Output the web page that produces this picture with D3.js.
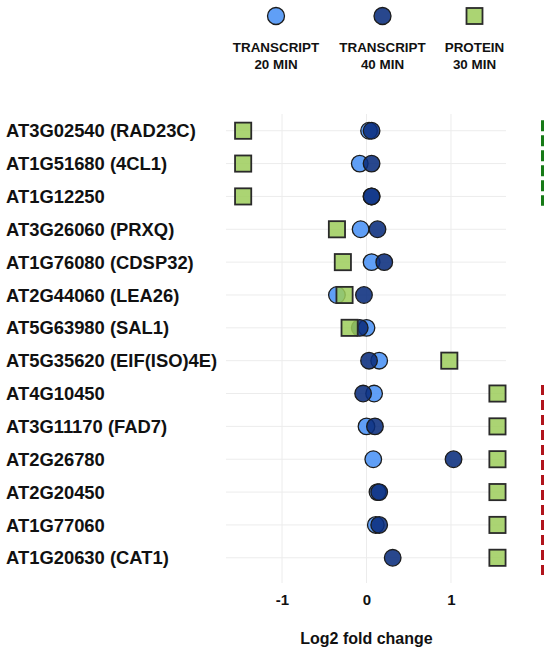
<!DOCTYPE html>
<html>
<head>
<meta charset="utf-8">
<script src="https://cdn.jsdelivr.net/npm/d3@7"></script>
<style>
  html, body { margin: 0; padding: 0; background: #fff; }
  svg { display: block; font-family: "Liberation Sans", Arial, sans-serif; font-weight: bold; }
</style>
</head>
<body>
<svg id="chart" width="545" height="648"></svg>
<script>
// Genes (top to bottom)
const genes = [
  "AT3G02540 (RAD23C)",
  "AT1G51680 (4CL1)",
  "AT1G12250",
  "AT3G26060 (PRXQ)",
  "AT1G76080 (CDSP32)",
  "AT2G44060 (LEA26)",
  "AT5G63980 (SAL1)",
  "AT5G35620 (EIF(ISO)4E)",
  "AT4G10450",
  "AT3G11170 (FAD7)",
  "AT2G26780",
  "AT2G20450",
  "AT1G77060",
  "AT1G20630 (CAT1)"
];

// Log2 fold changes
const transcript20 = [0.03, -0.08, 0.06, -0.07, 0.06, -0.35, 0.0, 0.15, 0.09, 0.0, 0.08, 0.13, 0.11, null];
const transcript40 = [0.06, 0.06, 0.06, 0.13, 0.21, -0.03, -0.08, 0.03, -0.04, 0.1, 1.03, 0.15, 0.15, 0.31];
const protein30    = [-1.46, -1.46, -1.46, -0.35, -0.28, -0.26, -0.2, 0.98, 1.55, 1.55, 1.55, 1.55, 1.55, 1.55];

// Axis ticks
const tickValues = [-1, 0, 1];
const tickLabels = ["-1", "0", "1"];

// Legend entries
const legendLabels = [["TRANSCRIPT", "20 MIN"], ["TRANSCRIPT", "40 MIN"], ["PROTEIN", "30 MIN"]];

// Bracketed gene groups (first and last row index)
const groupStart = [0, 8];
const groupEnd = [2, 13];

const svg = d3.select("#chart");

const x = d3.scaleLinear().domain([-1.663, 1.651]).range([226, 506]);
const y = d3.scaleBand().domain(genes).range([114.3, 574.2]).padding(0);
const yc = g => y(g) + y.bandwidth() / 2;

const colLight = "#4f95f5", colDark = "#0a2d7d", colGreen = "#9ccc5a", colStroke = "#1c1c1c";
const R = 8.3, S = 16.2;

// Grid
const grid = svg.append("g");
grid.selectAll("line.h").data(genes).join("line")
  .attr("x1", 226).attr("x2", 506)
  .attr("y1", d => yc(d)).attr("y2", d => yc(d))
  .attr("stroke", "#ececec").attr("stroke-width", 1);
grid.selectAll("line.v").data(tickValues).join("line")
  .attr("x1", d => x(d)).attr("x2", d => x(d))
  .attr("y1", 114).attr("y2", 583)
  .attr("stroke", "#ececec").attr("stroke-width", 1);

// X axis labels
const axis = d3.axisBottom(x).tickValues(tickValues).tickSize(0)
  .tickFormat((d, i) => tickLabels[i]);
const gx = svg.append("g").attr("transform", "translate(0,591)").call(axis);
gx.select(".domain").remove();
gx.selectAll("text").attr("font-size", 15).attr("font-weight", "bold")
  .attr("font-family", "Liberation Sans, Arial, sans-serif").attr("fill", "#111").attr("dy", "0.72em");

svg.append("text").attr("x", 366.5).attr("y", 644).attr("text-anchor", "middle")
  .attr("font-size", 16).attr("fill", "#111").text("Log2 fold change");

// Gene labels
svg.append("g").selectAll("text").data(genes).join("text")
  .attr("x", 6).attr("y", d => yc(d)).attr("dy", "0.36em")
  .attr("font-size", 18.4).attr("fill", "#111").text(d => d);

// Markers
const pts = svg.append("g");
pts.selectAll("circle.t20").data(genes.filter((g, i) => transcript20[i] != null)).join("circle")
  .attr("cx", g => x(transcript20[genes.indexOf(g)])).attr("cy", g => yc(g)).attr("r", R)
  .attr("fill", colLight).attr("fill-opacity", 0.9)
  .attr("stroke", colStroke).attr("stroke-width", 1.3);
pts.selectAll("circle.t40").data(genes).join("circle")
  .attr("cx", (g, i) => x(transcript40[i])).attr("cy", g => yc(g)).attr("r", R)
  .attr("fill", colDark).attr("fill-opacity", 0.88)
  .attr("stroke", colStroke).attr("stroke-width", 1.3);
pts.selectAll("rect.p30").data(genes).join("rect")
  .attr("x", (g, i) => x(protein30[i]) - S / 2).attr("y", g => yc(g) - S / 2)
  .attr("width", S).attr("height", S)
  .attr("fill", colGreen).attr("fill-opacity", 0.85)
  .attr("stroke", "#2a2a2a").attr("stroke-width", 1.8);

// Group brackets on the right
const groupColors = ["#167a16", "#b0141c"];
const groupDash = ["11,4", "10,5"];
const groupPad = [[6, -7], [8, 3.5]];
svg.append("g").selectAll("line").data(groupStart).join("line")
  .attr("x1", 542.5).attr("x2", 542.5)
  .attr("y1", (d, i) => y(genes[d]) + groupPad[i][0])
  .attr("y2", (d, i) => y(genes[groupEnd[i]]) + y.bandwidth() + groupPad[i][1])
  .attr("stroke", (d, i) => groupColors[i])
  .attr("stroke-width", 3)
  .attr("stroke-dasharray", (d, i) => groupDash[i]);

// Legend
const legX = [276, 382.5, 474.5];
const leg = svg.append("g");
leg.append("circle").attr("cx", legX[0]).attr("cy", 16).attr("r", 8.5)
  .attr("fill", colLight).attr("fill-opacity", 0.9).attr("stroke", colStroke).attr("stroke-width", 1.3);
leg.append("circle").attr("cx", legX[1]).attr("cy", 16).attr("r", 8.5)
  .attr("fill", colDark).attr("fill-opacity", 0.88).attr("stroke", colStroke).attr("stroke-width", 1.3);
leg.append("rect").attr("x", legX[2] - 8).attr("y", 8).attr("width", 16).attr("height", 16)
  .attr("fill", colGreen).attr("fill-opacity", 0.85).attr("stroke", "#2a2a2a").attr("stroke-width", 1.8);
legendLabels.forEach((lines, i) => {
  lines.forEach((t, j) => {
    leg.append("text").attr("x", legX[i]).attr("y", 51.7 + j * 17.6)
      .attr("text-anchor", "middle").attr("font-size", 13.4).attr("fill", "#111").text(t);
  });
});
</script>
</body>
</html>
